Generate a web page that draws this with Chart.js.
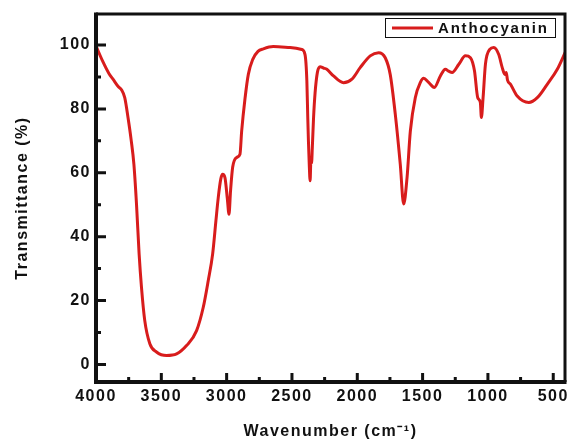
<!DOCTYPE html>
<html lang="en">
<head>
    <meta charset="UTF-8">
    <title>FTIR Anthocyanin</title>
    <script src="https://cdn.jsdelivr.net/npm/chart.js"></script>
    <style>
        body { margin: 0; background: #fff; }
        canvas { display: block; }
    </style>
</head>
<body>
    <canvas id="ftirChart" width="567" height="441"></canvas>

    <script>
        // values (wavenumber in cm-1, descending)
        var wavenumbers = [4000, 3950, 3900, 3870, 3830, 3805, 3780, 3755, 3730, 3710, 3690, 3670, 3652, 3627, 3588, 3537, 3460, 3383, 3307, 3230,
            3179, 3141, 3107, 3082, 3064, 3045, 3031, 3013, 2995, 2982, 2970, 2954, 2923, 2898, 2885, 2860, 2834, 2800, 2760, 2719,
            2643, 2514, 2425, 2400, 2386, 2379, 2374, 2368, 2361, 2355, 2350, 2344, 2335, 2323, 2305, 2285, 2260, 2233, 2182, 2106,
            2041, 1978, 1901, 1837, 1786, 1748, 1709, 1671, 1645, 1619, 1594, 1556, 1517, 1492, 1454, 1410, 1364, 1326, 1300, 1274,
            1224, 1172, 1134, 1103, 1078, 1058, 1050, 1037, 1019, 986, 955, 917, 891, 870, 860, 850, 827, 776, 687, 622,
            546, 469, 405];
        var transmittance = [99.7, 95, 91, 89.3, 87, 86, 83.5, 77.3, 70, 62.7, 50.2, 34.6, 24.2, 13.8, 6.5, 3.9, 2.8, 3.3, 5.9, 10.6,
            17.9, 26.2, 34.6, 45, 52.3, 58, 59.5, 58.5, 52, 47, 54.4, 61.7, 64.8, 65.8, 73, 83, 90.8, 95.5, 98, 98.8,
            99.5, 99.2, 98.6, 97, 88.8, 77.3, 70, 63, 57.5, 64, 63, 68, 77, 85, 91.5, 93.2, 92.8, 92.4, 90.3, 88.2,
            89.3, 92.9, 96.6, 97.6, 96, 90.8, 78.3, 62.7, 50.2, 58.5, 73, 83.5, 88.3, 89.6, 88.3, 86.7, 90.3, 92.4, 91.8, 91.4,
            93.9, 96.6, 96, 91.9, 83.5, 82, 77.3, 83.5, 94, 98.6, 99.2, 97, 93, 90.8, 91.4, 89, 87.7, 84, 82, 83.5,
            87.7, 92.4, 98];
        var seriesName = 'Anthocyanin';
        var xTicks = [4000, 3500, 3000, 2500, 2000, 1500, 1000, 500];
        var xMinorTicks = [3750, 3250, 2750, 2250, 1750, 1250, 750];
        var yTicks = [0, 20, 40, 60, 80, 100];
        var yMinorTicks = [10, 30, 50, 70, 90];

        var lineRed = '#d81c1c';
        var ink = '#111111';
        Chart.defaults.font.family = 'Arial, "Liberation Sans", sans-serif';

        var points = wavenumbers.map(function (w, i) { return { x: w, y: transmittance[i] }; });

        // wide tracking like the original figure text
        var spacingPlugin = {
            id: 'spacing',
            beforeDraw: function (chart) { chart.ctx.letterSpacing = '1.5px'; }
        };

        // closed frame, inward ticks and the boxed legend
        var framePlugin = {
            id: 'frame',
            afterDraw: function (chart) {
                var ctx = chart.ctx;
                var a = chart.chartArea;
                var xs = chart.scales.x, ys = chart.scales.y;
                ctx.save();
                ctx.strokeStyle = ink;
                ctx.lineCap = 'butt';

                ctx.lineWidth = 3;
                ctx.beginPath();
                xTicks.forEach(function (v) { var p = xs.getPixelForValue(v); ctx.moveTo(p, a.bottom); ctx.lineTo(p, a.bottom - 9); });
                xMinorTicks.forEach(function (v) { var p = xs.getPixelForValue(v); ctx.moveTo(p, a.bottom); ctx.lineTo(p, a.bottom - 5); });
                yTicks.forEach(function (v) { var p = ys.getPixelForValue(v); ctx.moveTo(a.left, p); ctx.lineTo(a.left + 10, p); });
                yMinorTicks.forEach(function (v) { var p = ys.getPixelForValue(v); ctx.moveTo(a.left, p); ctx.lineTo(a.left + 5, p); });
                ctx.stroke();

                ctx.lineWidth = 3;
                ctx.beginPath();
                ctx.moveTo(a.left, a.top); ctx.lineTo(a.right, a.top); ctx.lineTo(a.right, a.bottom);
                ctx.stroke();
                ctx.lineWidth = 4;
                ctx.beginPath();
                ctx.moveTo(a.right + 1.5, a.bottom); ctx.lineTo(a.left, a.bottom); ctx.lineTo(a.left, a.top - 1.5);
                ctx.stroke();

                // legend
                ctx.lineWidth = 1;
                ctx.strokeRect(385.5, 18.5, 170, 19);
                ctx.strokeStyle = lineRed;
                ctx.lineWidth = 3;
                ctx.beginPath();
                ctx.moveTo(392, 28); ctx.lineTo(433, 28);
                ctx.stroke();
                ctx.fillStyle = ink;
                ctx.font = 'bold 15px Arial, "Liberation Sans", sans-serif';
                ctx.letterSpacing = '1.8px';
                ctx.textAlign = 'left';
                ctx.textBaseline = 'middle';
                ctx.fillText(seriesName, 438, 28.5);
                ctx.restore();
            }
        };

        new Chart(document.getElementById('ftirChart'), {
            type: 'line',
            data: {
                datasets: [{
                    label: seriesName,
                    data: points,
                    borderColor: lineRed,
                    borderWidth: 3,
                    pointRadius: 0,
                    fill: false,
                    cubicInterpolationMode: 'monotone'
                }]
            },
            options: {
                responsive: false,
                animation: false,
                devicePixelRatio: 1,
                layout: { padding: { top: 14, right: 2, left: 0, bottom: 0 } },
                plugins: {
                    legend: { display: false },
                    tooltip: { enabled: false }
                },
                scales: {
                    x: {
                        type: 'linear',
                        reverse: true,
                        min: 410,
                        max: 4000,
                        afterBuildTicks: function (s) { s.ticks = xTicks.map(function (v) { return { value: v }; }); },
                        afterFit: function (s) { s.height = 59; s.paddingLeft = 0; s.paddingRight = 0; },
                        grid: { display: false, drawTicks: false },
                        border: { display: false },
                        ticks: {
                            color: ink,
                            font: { size: 16, weight: 'bold' },
                            padding: 5,
                            maxRotation: 0,
                            callback: function (v) { return String(v); }
                        },
                        title: {
                            display: true,
                            text: 'Wavenumber (cm\u207B\u00B9)',
                            color: ink,
                            font: { size: 16, weight: 'bold' },
                            padding: { top: 0, bottom: 0 }
                        }
                    },
                    y: {
                        min: -5.5,
                        max: 109.7,
                        afterBuildTicks: function (s) { s.ticks = yTicks.map(function (v) { return { value: v }; }); },
                        afterFit: function (s) { s.width = 96; s.paddingTop = 0; s.paddingBottom = 0; },
                        grid: { display: false, drawTicks: false },
                        border: { display: false },
                        ticks: { color: ink, font: { size: 16, weight: 'bold' }, padding: 5 },
                        title: {
                            display: true,
                            text: 'Transmittance (%)',
                            color: ink,
                            font: { size: 16, weight: 'bold' },
                            padding: { top: 13, bottom: 0 }
                        }
                    }
                }
            },
            plugins: [spacingPlugin, framePlugin]
        });
    </script>
</body>
</html>
